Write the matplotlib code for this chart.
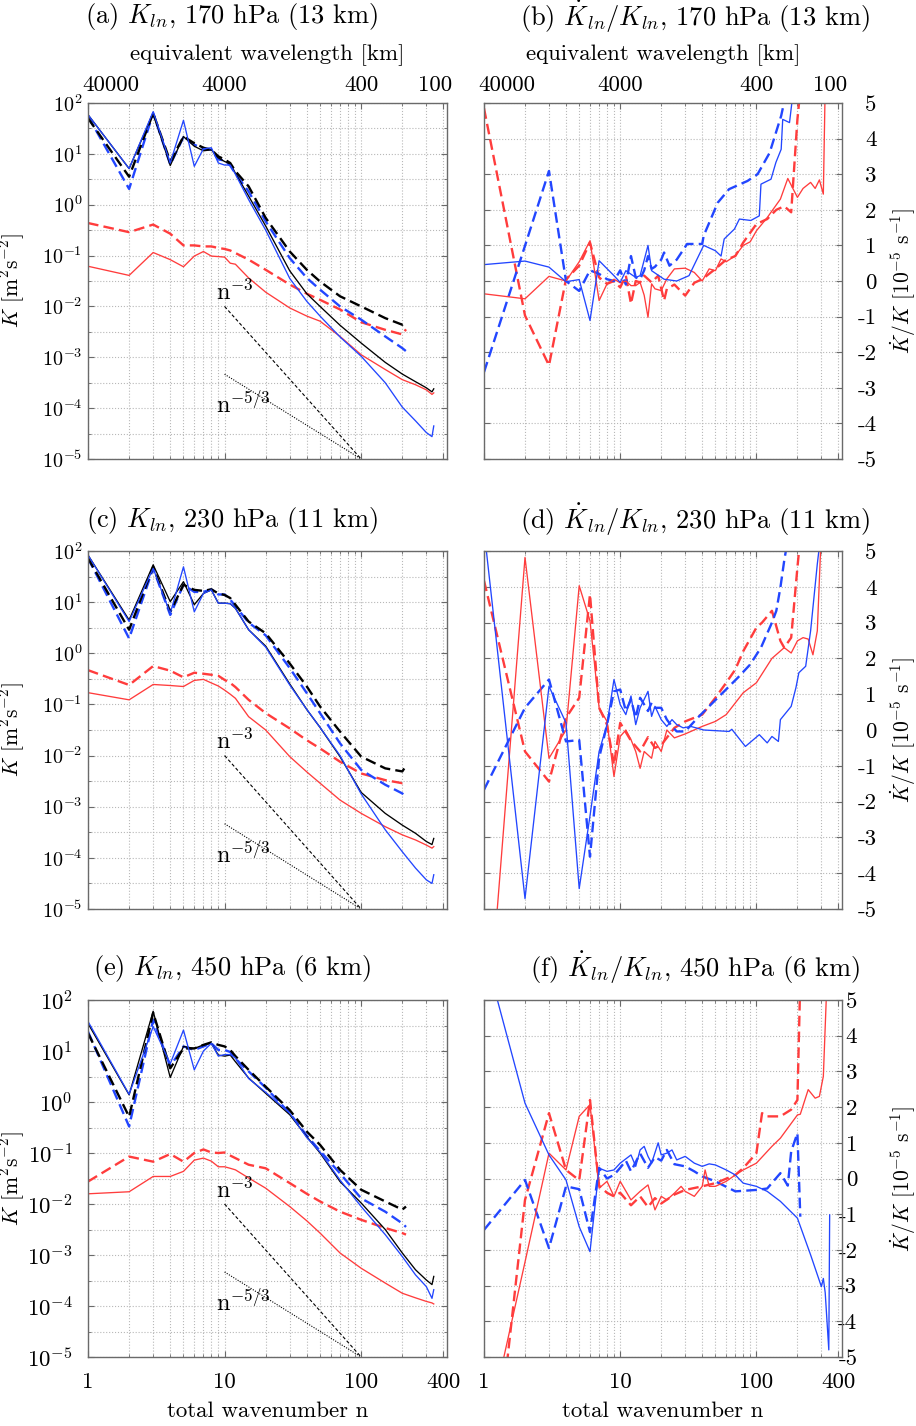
import numpy as np
import matplotlib
matplotlib.use("Agg")
import matplotlib.pyplot as plt
from matplotlib.ticker import FixedLocator, FixedFormatter, NullFormatter
from matplotlib.transforms import blended_transform_factory, ScaledTranslation

plt.rcParams['font.family'] = ['cmr10', 'DejaVu Serif']
plt.rcParams['mathtext.fontset'] = 'cm'
plt.rcParams['axes.unicode_minus'] = False
plt.rcParams['axes.formatter.use_mathtext'] = True

# ---------------- data: left panels (log10 of K) ----------------
N_SOLID = [1, 2, 3, 4, 5, 6, 7, 8, 9, 10, 11, 12, 15, 20, 30, 40, 50, 70, 100, 150, 200, 250, 300, 330, 340]
N_DASH = [1, 2, 3, 4, 5, 6, 7, 8, 9, 10, 11, 12, 15, 20, 30, 40, 50, 70, 100, 150, 200, 213]

# panel (a) 170 hPa
A_BLACK_SOLID = [1.77, 0.71, 1.80, 0.77, 1.34, 1.15, 1.06, 1.08, 0.92, 0.85, 0.80, 0.62, 0.17, -0.42, -1.30, -1.75, -2.0, -2.37, -2.72, -3.1, -3.33, -3.48, -3.60, -3.68, -3.62]
A_BLUE_SOLID = [1.77, 0.71, 1.83, 0.82, 1.66, 0.755, 1.10, 1.12, 0.82, 0.78, 0.78, 0.60, 0.10, -0.50, -1.45, -1.9, -2.19, -2.6, -2.98, -3.5, -3.98, -4.25, -4.48, -4.56, -4.35]
A_RED_SOLID = [-1.21, -1.39, -0.94, -1.08, -1.22, -1.01, -0.92, -1.01, -1.02, -1.03, -1.15, -1.17, -1.44, -1.72, -2.03, -2.19, -2.29, -2.59, -2.95, -3.24, -3.44, -3.54, -3.64, -3.73, -3.70]
A_BLACK_DASH = [1.70, 0.55, 1.80, 0.85, 1.34, 1.21, 1.12, 1.08, 0.95, 0.89, 0.82, 0.66, 0.36, -0.26, -0.92, -1.28, -1.51, -1.80, -2.0, -2.23, -2.36, -2.30]
A_BLUE_DASH = [1.74, 0.31, 1.80, 0.79, 1.33, 1.18, 1.10, 1.08, 0.89, 0.87, 0.77, 0.61, 0.26, -0.33, -1.05, -1.44, -1.67, -2.0, -2.26, -2.59, -2.82, -2.88]
A_RED_DASH = [-0.36, -0.54, -0.39, -0.57, -0.80, -0.80, -0.82, -0.82, -0.85, -0.87, -0.90, -0.95, -1.08, -1.28, -1.57, -1.75, -1.87, -2.06, -2.31, -2.46, -2.55, -2.45]

# panel (c) 230 hPa
C_BLACK_SOLID = [1.92, 0.65, 1.73, 1.01, 1.40, 0.95, 1.17, 1.24, 0.98, 0.98, 0.97, 0.88, 0.46, 0.14, -0.60, -1.1, -1.45, -2.02, -2.72, -3.13, -3.36, -3.52, -3.68, -3.74, -3.62]
C_BLUE_SOLID = [1.92, 0.62, 1.66, 0.78, 1.69, 0.81, 1.17, 1.24, 0.98, 0.98, 0.97, 0.88, 0.46, 0.12, -0.62, -1.1, -1.45, -2.0, -2.75, -3.45, -3.88, -4.2, -4.43, -4.5, -4.33]
C_RED_SOLID = [-0.77, -0.91, -0.61, -0.63, -0.65, -0.53, -0.51, -0.58, -0.64, -0.72, -0.80, -0.88, -1.24, -1.5, -2.02, -2.32, -2.54, -2.87, -3.13, -3.39, -3.55, -3.65, -3.75, -3.81, -3.78]
C_BLACK_DASH = [1.86, 0.46, 1.69, 0.81, 1.34, 1.24, 1.22, 1.25, 1.17, 1.14, 1.08, 0.95, 0.62, 0.39, -0.2, -0.65, -1.04, -1.53, -2.02, -2.25, -2.31, -2.20]
C_BLUE_DASH = [1.86, 0.29, 1.66, 0.75, 1.34, 1.20, 1.20, 1.25, 1.15, 1.15, 1.05, 0.92, 0.60, 0.35, -0.29, -0.78, -1.17, -1.76, -2.28, -2.57, -2.74, -2.83]
C_RED_DASH = [-0.33, -0.62, -0.25, -0.34, -0.47, -0.38, -0.40, -0.42, -0.44, -0.52, -0.58, -0.66, -0.91, -1.17, -1.47, -1.70, -1.86, -2.12, -2.35, -2.48, -2.54, -2.50]

# panel (e) 450 hPa
E_BLACK_SOLID = [1.54, 0.14, 1.78, 0.48, 1.09, 1.05, 1.12, 1.15, 0.92, 0.90, 0.92, 0.79, 0.47, 0.17, -0.25, -0.68, -1.0, -1.56, -1.98, -2.5, -2.96, -3.29, -3.49, -3.58, -3.42]
E_BLUE_SOLID = [1.58, 0.15, 1.48, 0.75, 1.41, 0.63, 1.0, 1.15, 0.90, 0.93, 0.93, 0.86, 0.46, 0.19, -0.22, -0.7, -0.98, -1.53, -2.05, -2.6, -3.03, -3.39, -3.62, -3.85, -3.68]
E_RED_SOLID = [-1.80, -1.76, -1.46, -1.46, -1.36, -1.14, -1.10, -1.16, -1.27, -1.27, -1.30, -1.33, -1.49, -1.69, -2.05, -2.33, -2.57, -2.96, -3.26, -3.55, -3.75, -3.84, -3.91, -3.94, -3.96]
E_BLACK_DASH = [1.35, -0.29, 1.75, 0.66, 1.05, 1.05, 1.12, 1.17, 1.12, 1.09, 1.02, 0.90, 0.63, 0.30, -0.16, -0.58, -0.84, -1.33, -1.72, -1.95, -2.11, -2.05]
E_BLUE_DASH = [1.38, -0.48, 1.61, 0.70, 1.09, 1.02, 1.09, 1.15, 1.02, 1.02, 0.98, 0.85, 0.60, 0.28, -0.22, -0.66, -0.96, -1.40, -1.89, -2.15, -2.38, -2.45]
E_RED_DASH = [-1.56, -1.07, -1.17, -1.02, -1.17, -1.0, -0.93, -0.99, -1.0, -0.99, -1.05, -1.10, -1.23, -1.30, -1.59, -1.80, -1.95, -2.15, -2.31, -2.47, -2.57, -2.60]

# ---------------- data: right panels (Kdot/K, 1e-5 s^-1) ----------------
# panel (b)
B_BLUE_SOLID_N = [1, 2, 3, 4, 5, 6, 7, 9, 10, 11, 13, 14, 16, 17, 21, 26, 32, 41, 50, 55, 58, 69, 75, 91, 105, 108, 128, 139, 152, 156, 175, 190]
B_BLUE_SOLID = [0.46, 0.56, 0.39, -0.02, 0.04, -1.11, 0.57, 0.15, -0.04, 0.29, 0.10, 0.15, 1.0, 0.29, 0.05, 0.0, 0.15, 1.0, 0.85, 0.7, 1.18, 1.46, 1.74, 1.7, 1.83, 2.72, 2.86, 3.33, 3.7, 4.54, 4.45, 5.6]
B_BLUE_DASH_N = [1, 2, 3, 4, 5, 6, 7, 8, 9, 10, 11, 12, 13, 14, 15, 16, 17, 18, 20, 21, 23, 26, 31, 40, 41, 52, 63, 86, 102, 125, 152, 170]
B_BLUE_DASH = [-2.56, 0.99, 3.09, 0.0, -0.28, 0.3, 0.2, 0.05, 0.0, 0.3, -0.1, 0.7, 0.1, 0.05, 0.3, 0.7, 0.34, 0.4, 0.6, 0.8, 0.43, 0.6, 1.04, 1.04, 1.27, 2.2, 2.58, 2.81, 3.0, 3.6, 4.64, 5.5]
B_RED_SOLID_N = [1, 2, 3, 4, 5, 6, 7, 8, 9, 10, 11, 12, 13, 14, 15, 16, 17, 18, 20, 22, 25, 30, 35, 40, 45, 50, 55, 60, 70, 80, 90, 100, 120, 150, 170, 200, 220, 250, 270, 290, 310, 320]
B_RED_SOLID = [-0.36, -0.5, 0.13, 0.0, 0.54, 1.13, -0.55, -0.08, 0.05, -0.05, 0.0, -0.13, -0.13, -0.04, -0.4, -1.02, -0.08, -0.22, -0.27, 0.06, 0.34, 0.36, 0.24, 0.0, 0.34, 0.29, 0.62, 0.54, 0.71, 1.0, 1.1, 1.41, 1.78, 2.3, 2.88, 2.35, 2.6, 2.77, 2.6, 2.84, 2.44, 5.5]
B_RED_DASH_N = [1, 2, 3, 4, 5, 6, 7, 8, 9, 10, 11, 12, 13, 14, 15, 17, 19, 21, 22, 25, 30, 35, 40, 50, 60, 70, 80, 100, 120, 140, 160, 180, 200, 213]
B_RED_DASH = [4.85, -0.97, -2.37, 0.05, 0.43, 1.08, 0.1, -0.08, 0.0, -0.18, 0.15, -0.64, 0.0, -0.04, 0.15, -0.04, 0.15, -0.55, -0.22, -0.1, -0.41, -0.05, 0.05, 0.34, 0.6, 0.7, 1.08, 1.6, 1.74, 2.0, 2.1, 1.93, 4.54, 5.6]

# panel (d)
D_BLUE_SOLID_N = [1, 2, 3, 4, 5, 6, 7, 8, 9, 10, 11, 12, 13, 14, 16, 17, 18, 20, 22, 24, 26, 29, 33, 41, 63, 66, 83, 105, 120, 130, 145, 150, 180, 195, 205, 230, 250, 280, 300]
D_BLUE_SOLID = [5.6, -4.71, 1.22, 0.2, -4.43, -2.4, -0.6, 0.15, 1.41, 0.71, 0.43, 0.95, 0.15, 0.62, 1.08, 0.38, 0.66, 0.29, 0.1, 0.29, 0.15, 0.06, 0.1, 0.0, -0.04, 0.02, -0.46, -0.13, -0.36, -0.18, -0.32, 0.29, 0.66, 1.18, 1.6, 1.78, 2.77, 4.64, 5.6]
D_BLUE_DASH_N = [1, 2, 3, 4, 5, 6, 7, 8, 9, 10, 11, 12, 13, 14, 15, 16, 17, 18, 20, 22, 24, 26, 30, 37, 52, 73, 90, 108, 130, 140, 150, 160, 175]
D_BLUE_DASH = [-1.67, 0.62, 1.41, -0.32, -0.28, -3.54, -0.78, 0.15, 1.08, 1.13, 0.53, 0.85, 0.34, 0.9, 0.71, 0.53, 0.76, 0.62, 0.62, 0.29, 0.1, -0.04, -0.04, 0.34, 0.9, 1.46, 1.83, 2.3, 3.0, 3.33, 3.98, 4.73, 5.6]
D_RED_SOLID_N = [1, 2, 3, 4, 5, 6, 7, 8, 9, 10, 11, 12, 13, 14, 15, 17, 18, 20, 22, 25, 30, 40, 50, 60, 80, 100, 130, 160, 180, 200, 220, 240, 260, 280, 300]
D_RED_SOLID = [-9.7, 4.82, -0.79, 0.0, 4.03, 3.05, 0.62, 0.24, -1.3, -0.18, 0.0, -0.27, -0.6, -1.07, -0.6, -0.79, -0.32, -0.6, 0.0, -0.22, -0.11, 0.1, 0.24, 0.43, 1.04, 1.32, 2.0, 2.3, 2.15, 2.49, 2.58, 2.54, 2.1, 2.77, 5.6]
D_RED_DASH_N = [1, 2, 3, 4, 5, 6, 7, 8, 9, 10, 12, 14, 16, 18, 20, 25, 30, 40, 50, 60, 70, 80, 100, 110, 130, 150, 160, 180, 200, 213]
D_RED_DASH = [4.17, -0.6, -1.44, 0.34, 0.9, 3.79, 0.62, 0.15, -0.97, 0.2, -0.3, -0.6, -0.2, -0.5, -0.42, 0.06, 0.24, 0.43, 0.9, 1.32, 1.69, 2.2, 2.86, 3.0, 3.33, 2.49, 2.3, 2.58, 4.54, 5.6]

# panel (f)
F_BLUE_SOLID_N = [1, 2, 3, 4, 5, 6, 7, 8, 9, 10, 12, 13, 14, 15, 16, 17, 19, 20, 22, 24, 26, 30, 35, 40, 45, 50, 60, 70, 80, 100, 120, 150, 200, 250, 300, 310, 320, 340, 345]
F_BLUE_SOLID = [6.4, 2.11, 0.66, -0.04, -1.35, -2.05, 0.29, 0.2, 0.24, 0.43, 0.66, 0.34, 0.8, 0.9, 0.62, 0.43, 1.0, 0.66, 0.71, 0.8, 0.52, 0.62, 0.43, 0.34, 0.41, 0.38, 0.24, 0.1, -0.13, -0.22, -0.36, -0.64, -1.11, -2.14, -3.03, -2.8, -3.2, -4.8, -1.02]
F_BLUE_DASH_N = [1, 2, 3, 4, 5, 6, 7, 8, 9, 10, 11, 12, 14, 16, 18, 20, 22, 25, 30, 35, 40, 50, 70, 100, 120, 150, 170, 180, 200, 210]
F_BLUE_DASH = [-1.44, -0.04, -1.95, -0.22, -0.3, -1.5, 0.3, 0.0, 0.1, 0.3, 0.5, 0.2, 0.7, 0.3, 0.6, 0.5, 0.8, 0.4, 0.34, 0.2, 0.06, -0.08, -0.36, -0.32, -0.28, 0.15, -0.2, 0.76, 1.27, -1.07]
F_RED_SOLID_N = [1, 2, 3, 4, 5, 6, 7, 8, 9, 10, 12, 14, 16, 18, 20, 22, 25, 28, 30, 35, 40, 42, 45, 50, 60, 70, 80, 100, 130, 150, 200, 210, 240, 270, 290, 310, 330]
F_RED_SOLID = [-7.5, -2.34, 0.71, 0.24, 1.74, 2.07, -0.27, -0.08, -0.5, -0.08, -0.6, -0.36, -0.18, -0.88, -0.5, -0.6, -0.41, -0.22, -0.36, -0.5, -0.22, 0.24, -0.22, -0.22, -0.08, 0.1, 0.24, 0.43, 0.9, 1.13, 1.78, 1.8, 2.49, 2.25, 2.3, 2.86, 5.6]
F_RED_DASH_N = [1, 2, 3, 4, 5, 6, 7, 8, 9, 10, 12, 14, 16, 18, 20, 25, 30, 40, 50, 70, 80, 100, 110, 120, 150, 180, 200, 210]
F_RED_DASH = [-11.0, -0.6, 1.83, 0.24, -0.05, 2.2, -0.2, -0.4, -0.5, -0.4, -0.75, -0.5, -0.8, -0.55, -0.7, -0.45, -0.32, -0.22, -0.13, 0.1, 0.29, 0.71, 1.83, 1.74, 1.74, 1.93, 2.2, 5.6]

TITLES_LEFT = [r"(a) $K_{ln}$, 170 hPa (13 km)", r"(c) $K_{ln}$, 230 hPa (11 km)", r"(e) $K_{ln}$, 450 hPa (6 km)"]
TITLES_RIGHT = [r"(b) $\dot{K}_{ln}/K_{ln}$, 170 hPa (13 km)", r"(d) $\dot{K}_{ln}/K_{ln}$, 230 hPa (11 km)",
                r"(f) $\dot{K}_{ln}/K_{ln}$, 450 hPa (6 km)"]
X_TICKS = [1, 10, 100, 400]
X_TICK_LABELS = ["1", "10", "100", "400"]
WL_TICK_LABELS = ["40000", "4000", "400", "100"]
WL_LABEL_SHIFT_PX = [23, 0, 0, -8]
Y_LOG_EXP = [-5, -4, -3, -2, -1, 0, 1, 2]
Y_LIN_TICKS = [-5, -4, -3, -2, -1, 0, 1, 2, 3, 4, 5]

BLUE = '#2246ff'
RED = '#ff3c3c'
FRAME = '#6a6a6a'
GRID = '#b8b8b8'

W, H = 916, 1426
fig = plt.figure(figsize=(W / 100, H / 100), dpi=100)

rows_px = [(103, 459), (551, 909), (1000, 1357)]
left_px = (88, 447)
right_px = (484, 842)
title_y = [17, 520, 968]
XMAX = 425


def ax_rect(xr, yr):
    return [xr[0] / W, 1 - yr[1] / H, (xr[1] - xr[0]) / W, (yr[1] - yr[0]) / H]


def px(dx, dy):
    return ScaledTranslation(dx / 100.0, dy / 100.0, fig.dpi_scale_trans)


def style_common(ax):
    ax.set_xscale('log')
    ax.set_xlim(1, XMAX)
    ax.xaxis.set_major_locator(FixedLocator(X_TICKS))
    minor = [m * 10 ** k for k in range(0, 3) for m in range(2, 10) if m * 10 ** k < XMAX and m * 10 ** k != 400]
    ax.xaxis.set_minor_locator(FixedLocator(minor))
    ax.xaxis.set_minor_formatter(NullFormatter())
    for s in ax.spines.values():
        s.set_color(FRAME)
        s.set_linewidth(1.0)
    ax.tick_params(which='both', direction='in', top=True, bottom=True, left=True, right=True,
                   color=FRAME, labelsize=15)
    ax.tick_params(which='major', length=4.5, width=0.8)
    ax.tick_params(which='minor', length=2.5, width=0.6)
    ax.grid(True, which='both', axis='x', color=GRID, linestyle=':', linewidth=0.8)


def top_axis(ax):
    ax.xaxis.set_major_formatter(NullFormatter())
    trans = blended_transform_factory(ax.transData, ax.transAxes)
    for n, lab, dx in zip(X_TICKS, WL_TICK_LABELS, WL_LABEL_SHIFT_PX):
        ax.text(n, 1.0, lab, transform=trans + px(dx, 12), ha='center', va='baseline', fontsize=16.5)
    ax.text(0.5, 1.0, "equivalent wavelength [km]", transform=ax.transAxes + px(0, 48),
            ha='center', va='center', fontsize=16.5)


def bottom_axis(ax):
    ax.xaxis.set_major_formatter(FixedFormatter(X_TICK_LABELS))
    ax.tick_params(which='major', labelbottom=True, labelsize=16.5, pad=11)
    ax.set_xlabel("total wavenumber n", fontsize=16.5, labelpad=7)


def plot_series(ax, n, v, color, dashed, log=False):
    y = np.power(10.0, v) if log else np.asarray(v)
    if dashed:
        ax.plot(n, y, color=color, lw=1.7, linestyle=(0, (4.5, 2.2)))
    else:
        ax.plot(n, y, color=color, lw=0.95)


left_data = [
    (A_BLACK_SOLID, A_BLUE_SOLID, A_RED_SOLID, A_BLACK_DASH, A_BLUE_DASH, A_RED_DASH),
    (C_BLACK_SOLID, C_BLUE_SOLID, C_RED_SOLID, C_BLACK_DASH, C_BLUE_DASH, C_RED_DASH),
    (E_BLACK_SOLID, E_BLUE_SOLID, E_RED_SOLID, E_BLACK_DASH, E_BLUE_DASH, E_RED_DASH),
]
right_data = [
    ((B_BLUE_SOLID_N, B_BLUE_SOLID), (B_RED_SOLID_N, B_RED_SOLID), (B_BLUE_DASH_N, B_BLUE_DASH), (B_RED_DASH_N, B_RED_DASH)),
    ((D_BLUE_SOLID_N, D_BLUE_SOLID), (D_RED_SOLID_N, D_RED_SOLID), (D_BLUE_DASH_N, D_BLUE_DASH), (D_RED_DASH_N, D_RED_DASH)),
    ((F_BLUE_SOLID_N, F_BLUE_SOLID), (F_RED_SOLID_N, F_RED_SOLID), (F_BLUE_DASH_N, F_BLUE_DASH), (F_RED_DASH_N, F_RED_DASH)),
]

for r in range(3):
    # ---------- left ----------
    ax = fig.add_axes(ax_rect(left_px, rows_px[r]))
    style_common(ax)
    ax.set_yscale('log')
    ax.set_ylim(1e-5, 1e2)
    ax.yaxis.set_major_locator(FixedLocator([10.0 ** e for e in Y_LOG_EXP]))
    ax.yaxis.set_major_formatter(FixedFormatter([r"$10^{%d}$" % e for e in Y_LOG_EXP]))
    ax.yaxis.set_minor_locator(FixedLocator([10.0 ** (e + 0.5) for e in Y_LOG_EXP[:-1]]))
    ax.yaxis.set_minor_formatter(NullFormatter())
    ax.tick_params(axis='y', labelsize=14.5, pad=4)
    ax.grid(True, which='both', axis='y', color=GRID, linestyle=':', linewidth=0.8)
    bs, bls, rs, bd, bld, rd = left_data[r]
    plot_series(ax, N_DASH, rd, RED, True, log=True)
    plot_series(ax, N_DASH, bld, BLUE, True, log=True)
    plot_series(ax, N_DASH, bd, 'black', True, log=True)
    plot_series(ax, N_SOLID, rs, RED, False, log=True)
    plot_series(ax, N_SOLID, bs, 'black', False, log=True)
    plot_series(ax, N_SOLID, bls, BLUE, False, log=True)
    # reference slopes
    ax.plot([10, 100], [1e-2, 1e-5], color='black', lw=0.8, linestyle=(0, (3, 2)))
    ax.plot([10, 100], [10 ** (-5 + 5 / 3.0), 1e-5], color='black', lw=0.8, linestyle=(0, (1, 1.3)))
    ax.text(8.6, 1.9e-2, r"n$^{-3}$", fontsize=17.5, ha='left', va='center')
    ax.text(8.6, 1.15e-4, r"n$^{-5/3}$", fontsize=17.5, ha='left', va='center')
    ax.set_ylabel(r"$K$ [m$^2$s$^{-2}$]", fontsize=15.5)
    ax.yaxis.set_label_coords(-0.17, 0.5)
    if r == 0:
        top_axis(ax)
    elif r == 2:
        bottom_axis(ax)
    else:
        ax.xaxis.set_major_formatter(NullFormatter())
    fig.text(232 / W, 1 - title_y[r] / H, TITLES_LEFT[r], fontsize=19, ha='center', va='center')

    # ---------- right ----------
    ax2 = fig.add_axes(ax_rect(right_px, rows_px[r]))
    style_common(ax2)
    ax2.set_ylim(-5, 5)
    ax2.yaxis.set_major_locator(FixedLocator(Y_LIN_TICKS))
    ax2.yaxis.set_major_formatter(FixedFormatter([str(t) for t in Y_LIN_TICKS]))
    ax2.tick_params(axis='y', labelleft=False, labelright=True, labelsize=16.5, pad=25)
    plt.setp(ax2.get_yticklabels(), ha='right')
    ax2.grid(True, which='major', axis='y', color=GRID, linestyle=':', linewidth=0.8)
    (nbs, vbs), (nrs, vrs), (nbd, vbd), (nrd, vrd) = right_data[r]
    plot_series(ax2, nrd, vrd, RED, True)
    plot_series(ax2, nbd, vbd, BLUE, True)
    plot_series(ax2, nrs, vrs, RED, False)
    plot_series(ax2, nbs, vbs, BLUE, False)
    ax2.yaxis.set_label_position('right')
    ax2.set_ylabel(r"$\dot{K}/K$ [10$^{-5}$ s$^{-1}$]", fontsize=15.5, rotation=90)
    ax2.yaxis.set_label_coords(1.128, 0.5)
    if r == 0:
        top_axis(ax2)
    elif r == 2:
        bottom_axis(ax2)
    else:
        ax2.xaxis.set_major_formatter(NullFormatter())
    fig.text(695 / W, 1 - title_y[r] / H, TITLES_RIGHT[r], fontsize=19, ha='center', va='center')

fig.savefig("out.png", dpi=100)
